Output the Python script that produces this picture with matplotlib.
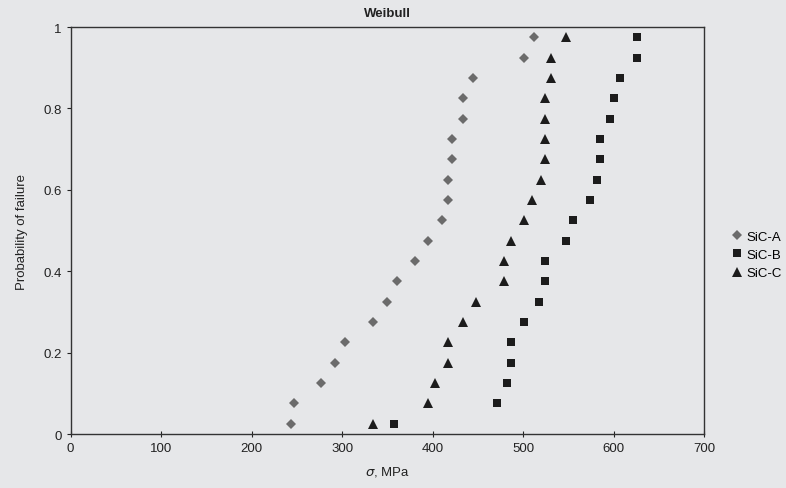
import matplotlib
matplotlib.use("Agg")
from matplotlib import pyplot as plt

plt.rcParams['font.family'] = ['Liberation Sans', 'DejaVu Sans']

# failure probabilities (rank order, 20 specimens each)
prob = [0.025, 0.075, 0.125, 0.175, 0.225, 0.275, 0.325, 0.375, 0.425, 0.475,
        0.525, 0.575, 0.625, 0.675, 0.725, 0.775, 0.825, 0.875, 0.925, 0.975]

sic_a = [243, 247, 277, 292, 303, 334, 349, 361, 380, 395,
         410, 417, 417, 421, 421, 433, 433, 444, 501, 512]
sic_b = [357, 471, 482, 486, 486, 501, 517, 524, 524, 547,
         555, 574, 581, 585, 585, 596, 600, 607, 626, 626]
sic_c = [334, 395, 403, 417, 417, 433, 448, 479, 479, 486,
         501, 509, 520, 524, 524, 524, 524, 531, 531, 547]

xticks = [0, 100, 200, 300, 400, 500, 600, 700]
yticks = [0, 0.2, 0.4, 0.6, 0.8, 1]
ytick_labels = ['0', '0.2', '0.4', '0.6', '0.8', '1']

bg = '#e6e7e9'
fig = plt.figure(figsize=(7.86, 4.89), dpi=100, facecolor=bg)
ax = fig.add_axes([0.0897, 0.1104, 0.8066, 0.8323], facecolor=bg)

ax.plot(sic_a, prob, 'D', color='#6b6b6b', markersize=4.6, markeredgewidth=0, label='SiC-A')
ax.plot(sic_b, prob, 's', color='#1c1c1c', markersize=6.0, markeredgewidth=0, label='SiC-B')
ax.plot(sic_c, prob, '^', color='#1c1c1c', markersize=6.8, markeredgewidth=0, label='SiC-C')

ax.set_xlim(0, 700)
ax.set_ylim(0, 1)
ax.set_xticks(xticks)
ax.set_yticks(yticks)
ax.set_yticklabels(ytick_labels)
ax.tick_params(axis='x', direction='inout', length=5, width=0.8, labelsize=9.5, colors='#222222')
ax.tick_params(axis='y', direction='out', length=3, width=0.8, labelsize=9.5, colors='#222222')
for sp in ax.spines.values():
    sp.set_color('#333333')
    sp.set_linewidth(1.0)

ax.set_title('Weibull', fontsize=9.5, fontweight='bold', color='#222222', pad=8)
ax.set_xlabel(r'$\sigma$, MPa', fontsize=9.5, color='#222222', labelpad=7)
ax.set_ylabel('Probability of failure', fontsize=9.5, color='#222222', labelpad=11)

ax.legend(loc='center left', bbox_to_anchor=(1.03, 0.44), frameon=False,
          fontsize=9.5, handletextpad=0.1, handlelength=1.2, labelspacing=0.45,
          borderaxespad=0)

fig.savefig("out.png", dpi=100, facecolor=bg)
